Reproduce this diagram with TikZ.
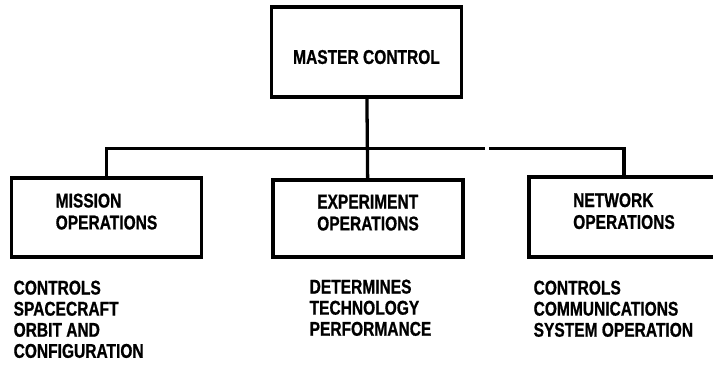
\documentclass[tikz,border=0pt]{standalone}
\usepackage{fontspec}
\setmainfont{Liberation Sans}[FakeStretch=0.78,FakeBold=0.8]

\begin{document}
\begin{tikzpicture}[x=0.03cm,y=-0.03cm,line width=2.8pt,
    box/.style={draw,inner sep=0pt,minimum width=5.7cm,minimum height=2.37cm,
      align=left,text height=20.5pt,font=\bfseries\fontsize{17}{18.7}\selectfont},
    note/.style={anchor=north west,inner sep=0pt,align=left,
      font=\bfseries\fontsize{17}{18}\selectfont}]
      \clip (0,0) rectangle (713,371);
      \draw
        (366.5,52) node[box,minimum height=2.7cm] (master){MASTER CONTROL}
        (106.5,217.5) node[box] (mission){MISSION\\OPERATIONS}
        (368,218.5) node[box,minimum height=2.31cm] (experiment){EXPERIMENT\\OPERATIONS}
        (624,217) node[box,minimum height=2.4cm] (network){NETWORK\\OPERATIONS};
      \node[note] (missiontxt) at (12,279) {CONTROLS\\SPACECRAFT\\ORBIT AND\\CONFIGURATION};
      \node[note] (experimenttxt) at (308,278) {DETERMINES\\TECHNOLOGY\\PERFORMANCE};
      \node[note] (networktxt) at (532,279) {CONTROLS\\COMMUNICATIONS\\SYSTEM OPERATION};
      % bus line, broken a little right of the middle box
      \coordinate (busL) at (483,148.5);
      \coordinate (busR) at (491,148.5);
      \begin{scope}[line cap=rect]
        \draw (master) -- (experiment);
        \draw (mission.north) |- (busL);
        \draw (busR) -| (network.north);
      \end{scope}
\end{tikzpicture}
\end{document}
